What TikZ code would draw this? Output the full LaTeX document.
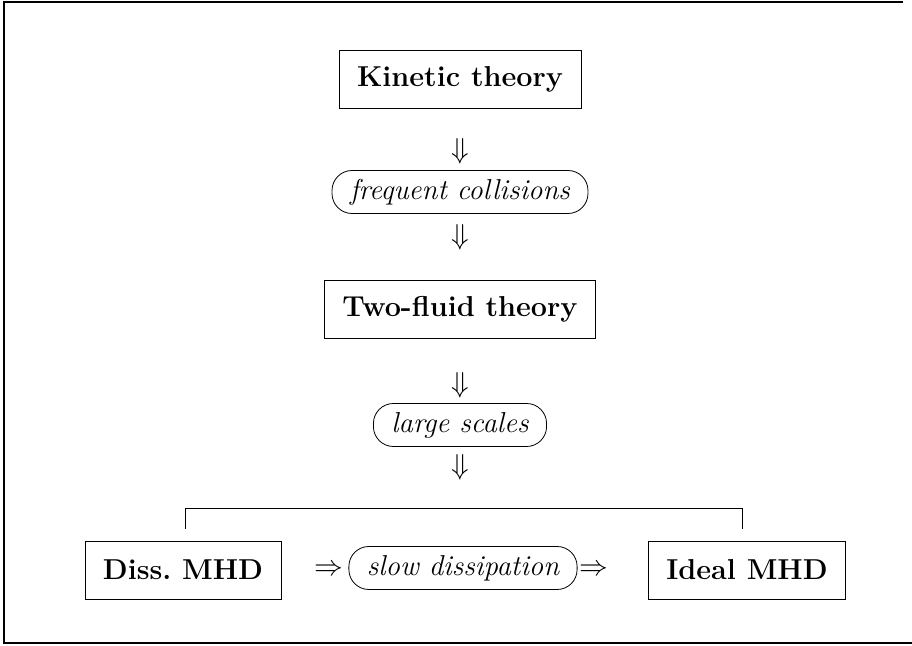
\documentclass[tikz,border=0pt]{standalone}
\begin{document}
\begin{tikzpicture}[x=0.5pt,y=-0.5pt,
  theory/.style={draw,font=\Large\bfseries,inner xsep=9pt,minimum height=29pt},
  limit/.style={draw,rounded corners=10pt,font=\Large\itshape,inner xsep=9pt,minimum height=21.5pt},
  implies/.style={font=\Large,inner sep=0pt}]
\useasboundingbox (0,0) rectangle (912,646);
\draw[line width=0.8pt] (903,2) -- (4,2) -- (4,643) -- (912,643);
\node[theory] (kin) at (460,79) {Kinetic theory};
\node[implies] (d1) at (460,151) {$\Downarrow$};
\node[limit] (coll) at (460,192) {frequent collisions};
\node[implies] (d2) at (460,237) {$\Downarrow$};
\node[theory] (two) at (460,309) {Two-fluid theory};
\node[implies] (d3) at (460,385) {$\Downarrow$};
\node[limit] (large) at (460,425) {large scales};
\node[implies] (d4) at (460,467) {$\Downarrow$};
\node[theory] (diss) at (183,570) {Diss.\ MHD};
\node[implies] (r1) at (329,570) {$\Rightarrow$};
\node[limit] (slow) at (463,568) {slow dissipation};
\node[implies] (r2) at (594,570) {$\Rightarrow$};
\node[theory] (ideal) at (747,570) {Ideal MHD};
\coordinate (brl) at ([xshift=1pt,yshift=6pt]diss.north);
\coordinate (brr) at ([xshift=-2.5pt,yshift=6pt]ideal.north);
\draw (brl) -- ++(0,-20) -| (brr);
\end{tikzpicture}
\end{document}
